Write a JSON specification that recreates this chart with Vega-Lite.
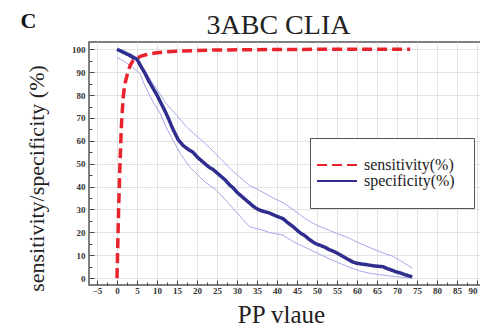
{
  "$schema": "https://vega.github.io/schema/vega-lite/v6.json",
  "width": 400,
  "height": 243,
  "autosize": {"type": "none"},
  "padding": {"left": 89, "top": 42, "right": 0, "bottom": 42},
  "background": "white",
  "config": {
    "view": {"stroke": "#555555", "strokeWidth": 1.5},
    "axis": {
      "labelFont": "Liberation Serif",
      "labelFontWeight": "bold",
      "labelFontSize": 9,
      "labelColor": "#333333",
      "titleFont": "Liberation Serif",
      "titleFontWeight": "normal",
      "titleColor": "#222222",
      "tickColor": "#444444",
      "gridColor": "#e2e2e2",
      "gridWidth": 1,
      "domain": false
    }
  },
  "datasets": {
    "bands": [
      {"bound": "upper", "pp": 0, "pct": 100},
      {"bound": "upper", "pp": 2, "pct": 99.3},
      {"bound": "upper", "pp": 4, "pct": 97.5},
      {"bound": "upper", "pp": 5, "pct": 96},
      {"bound": "upper", "pp": 7, "pct": 90.5},
      {"bound": "upper", "pp": 9, "pct": 85},
      {"bound": "upper", "pp": 10, "pct": 82.5},
      {"bound": "upper", "pp": 12.4, "pct": 76},
      {"bound": "upper", "pp": 15, "pct": 71},
      {"bound": "upper", "pp": 17.4, "pct": 66},
      {"bound": "upper", "pp": 20, "pct": 62},
      {"bound": "upper", "pp": 23, "pct": 57.3},
      {"bound": "upper", "pp": 26, "pct": 52},
      {"bound": "upper", "pp": 28.5, "pct": 47.5},
      {"bound": "upper", "pp": 31.5, "pct": 43},
      {"bound": "upper", "pp": 33, "pct": 40.6},
      {"bound": "upper", "pp": 36, "pct": 38},
      {"bound": "upper", "pp": 38.5, "pct": 35.5},
      {"bound": "upper", "pp": 41.5, "pct": 33},
      {"bound": "upper", "pp": 44, "pct": 30},
      {"bound": "upper", "pp": 47, "pct": 26},
      {"bound": "upper", "pp": 50, "pct": 23},
      {"bound": "upper", "pp": 53, "pct": 21},
      {"bound": "upper", "pp": 55, "pct": 19.5},
      {"bound": "upper", "pp": 58, "pct": 17.5},
      {"bound": "upper", "pp": 61, "pct": 15},
      {"bound": "upper", "pp": 63, "pct": 13.5},
      {"bound": "upper", "pp": 66.5, "pct": 11},
      {"bound": "upper", "pp": 69, "pct": 9.5},
      {"bound": "upper", "pp": 71, "pct": 7.5},
      {"bound": "upper", "pp": 73.8, "pct": 4.4},
      {"bound": "lower", "pp": 0, "pct": 96.5},
      {"bound": "lower", "pp": 2, "pct": 94.5},
      {"bound": "lower", "pp": 4, "pct": 92},
      {"bound": "lower", "pp": 5.7, "pct": 89.5},
      {"bound": "lower", "pp": 7, "pct": 84},
      {"bound": "lower", "pp": 9, "pct": 77},
      {"bound": "lower", "pp": 10.8, "pct": 72},
      {"bound": "lower", "pp": 12, "pct": 67},
      {"bound": "lower", "pp": 14, "pct": 60.3},
      {"bound": "lower", "pp": 16, "pct": 54},
      {"bound": "lower", "pp": 18.2, "pct": 48.5},
      {"bound": "lower", "pp": 20, "pct": 45.5},
      {"bound": "lower", "pp": 22, "pct": 42},
      {"bound": "lower", "pp": 24.9, "pct": 38.4},
      {"bound": "lower", "pp": 28, "pct": 32.5},
      {"bound": "lower", "pp": 30, "pct": 28.5},
      {"bound": "lower", "pp": 33.2, "pct": 22.4},
      {"bound": "lower", "pp": 36, "pct": 21.2},
      {"bound": "lower", "pp": 38, "pct": 20},
      {"bound": "lower", "pp": 41.5, "pct": 18.8},
      {"bound": "lower", "pp": 44, "pct": 16},
      {"bound": "lower", "pp": 47, "pct": 13.5},
      {"bound": "lower", "pp": 50, "pct": 11},
      {"bound": "lower", "pp": 53, "pct": 8.5},
      {"bound": "lower", "pp": 55, "pct": 7},
      {"bound": "lower", "pp": 58, "pct": 4.8},
      {"bound": "lower", "pp": 61, "pct": 3},
      {"bound": "lower", "pp": 63.5, "pct": 2},
      {"bound": "lower", "pp": 66.5, "pct": 1.3},
      {"bound": "lower", "pp": 69, "pct": 0.8},
      {"bound": "lower", "pp": 71, "pct": 0.4},
      {"bound": "lower", "pp": 73, "pct": 0.1}
    ],
    "curves": [
      {"series": "sensitivity(%)", "pp": 0, "pct": 0},
      {"series": "sensitivity(%)", "pp": 0.2, "pct": 15},
      {"series": "sensitivity(%)", "pp": 0.4, "pct": 30},
      {"series": "sensitivity(%)", "pp": 0.7, "pct": 47},
      {"series": "sensitivity(%)", "pp": 1.0, "pct": 62},
      {"series": "sensitivity(%)", "pp": 1.2, "pct": 70},
      {"series": "sensitivity(%)", "pp": 1.6, "pct": 80},
      {"series": "sensitivity(%)", "pp": 2.0, "pct": 85},
      {"series": "sensitivity(%)", "pp": 2.7, "pct": 90},
      {"series": "sensitivity(%)", "pp": 3.3, "pct": 93},
      {"series": "sensitivity(%)", "pp": 4, "pct": 95},
      {"series": "sensitivity(%)", "pp": 5, "pct": 96.2},
      {"series": "sensitivity(%)", "pp": 6, "pct": 97},
      {"series": "sensitivity(%)", "pp": 7, "pct": 97.5},
      {"series": "sensitivity(%)", "pp": 8, "pct": 98},
      {"series": "sensitivity(%)", "pp": 10, "pct": 98.5},
      {"series": "sensitivity(%)", "pp": 12, "pct": 98.9},
      {"series": "sensitivity(%)", "pp": 15, "pct": 99.2},
      {"series": "sensitivity(%)", "pp": 20, "pct": 99.5},
      {"series": "sensitivity(%)", "pp": 25, "pct": 99.7},
      {"series": "sensitivity(%)", "pp": 30, "pct": 99.8},
      {"series": "sensitivity(%)", "pp": 40, "pct": 99.9},
      {"series": "sensitivity(%)", "pp": 50, "pct": 100},
      {"series": "sensitivity(%)", "pp": 73.3, "pct": 100},
      {"series": "specificity(%)", "pp": 0, "pct": 100},
      {"series": "specificity(%)", "pp": 1, "pct": 99.2},
      {"series": "specificity(%)", "pp": 2, "pct": 98.3},
      {"series": "specificity(%)", "pp": 3, "pct": 97.5},
      {"series": "specificity(%)", "pp": 4, "pct": 96.5},
      {"series": "specificity(%)", "pp": 5, "pct": 95.7},
      {"series": "specificity(%)", "pp": 6, "pct": 92.5},
      {"series": "specificity(%)", "pp": 7, "pct": 89.5},
      {"series": "specificity(%)", "pp": 8, "pct": 86},
      {"series": "specificity(%)", "pp": 9, "pct": 83},
      {"series": "specificity(%)", "pp": 10, "pct": 80},
      {"series": "specificity(%)", "pp": 11, "pct": 76.5},
      {"series": "specificity(%)", "pp": 12, "pct": 73},
      {"series": "specificity(%)", "pp": 12.8, "pct": 70},
      {"series": "specificity(%)", "pp": 14, "pct": 65},
      {"series": "specificity(%)", "pp": 15.3, "pct": 60.5},
      {"series": "specificity(%)", "pp": 16.5, "pct": 58},
      {"series": "specificity(%)", "pp": 18, "pct": 56},
      {"series": "specificity(%)", "pp": 19, "pct": 55},
      {"series": "specificity(%)", "pp": 20, "pct": 53},
      {"series": "specificity(%)", "pp": 21, "pct": 51.5},
      {"series": "specificity(%)", "pp": 22, "pct": 50},
      {"series": "specificity(%)", "pp": 23, "pct": 48.5},
      {"series": "specificity(%)", "pp": 24, "pct": 47.5},
      {"series": "specificity(%)", "pp": 25, "pct": 46},
      {"series": "specificity(%)", "pp": 26, "pct": 44.5},
      {"series": "specificity(%)", "pp": 27, "pct": 43},
      {"series": "specificity(%)", "pp": 28, "pct": 41},
      {"series": "specificity(%)", "pp": 29, "pct": 39.5},
      {"series": "specificity(%)", "pp": 30, "pct": 37.5},
      {"series": "specificity(%)", "pp": 31, "pct": 36},
      {"series": "specificity(%)", "pp": 32, "pct": 34.5},
      {"series": "specificity(%)", "pp": 33, "pct": 33},
      {"series": "specificity(%)", "pp": 34, "pct": 31.5},
      {"series": "specificity(%)", "pp": 35, "pct": 30.3},
      {"series": "specificity(%)", "pp": 36, "pct": 29.5},
      {"series": "specificity(%)", "pp": 38, "pct": 28.5},
      {"series": "specificity(%)", "pp": 40, "pct": 27},
      {"series": "specificity(%)", "pp": 41.5, "pct": 26},
      {"series": "specificity(%)", "pp": 42.5, "pct": 24.5},
      {"series": "specificity(%)", "pp": 44, "pct": 22.5},
      {"series": "specificity(%)", "pp": 45, "pct": 21},
      {"series": "specificity(%)", "pp": 46, "pct": 19.5},
      {"series": "specificity(%)", "pp": 47, "pct": 18.5},
      {"series": "specificity(%)", "pp": 48, "pct": 17},
      {"series": "specificity(%)", "pp": 49, "pct": 15.8},
      {"series": "specificity(%)", "pp": 50, "pct": 14.8},
      {"series": "specificity(%)", "pp": 51, "pct": 14.2},
      {"series": "specificity(%)", "pp": 52, "pct": 13.5},
      {"series": "specificity(%)", "pp": 53, "pct": 12.5},
      {"series": "specificity(%)", "pp": 54, "pct": 11.8},
      {"series": "specificity(%)", "pp": 55, "pct": 11},
      {"series": "specificity(%)", "pp": 56, "pct": 10},
      {"series": "specificity(%)", "pp": 57, "pct": 9},
      {"series": "specificity(%)", "pp": 58, "pct": 8},
      {"series": "specificity(%)", "pp": 59, "pct": 7},
      {"series": "specificity(%)", "pp": 60, "pct": 6.5},
      {"series": "specificity(%)", "pp": 61, "pct": 6.2},
      {"series": "specificity(%)", "pp": 62, "pct": 6},
      {"series": "specificity(%)", "pp": 63, "pct": 5.7},
      {"series": "specificity(%)", "pp": 64, "pct": 5.4},
      {"series": "specificity(%)", "pp": 65, "pct": 5.2},
      {"series": "specificity(%)", "pp": 66.5, "pct": 5},
      {"series": "specificity(%)", "pp": 67.5, "pct": 4.2},
      {"series": "specificity(%)", "pp": 68.5, "pct": 3.6},
      {"series": "specificity(%)", "pp": 70, "pct": 2.6},
      {"series": "specificity(%)", "pp": 71, "pct": 2.2},
      {"series": "specificity(%)", "pp": 72, "pct": 1.5},
      {"series": "specificity(%)", "pp": 73, "pct": 1},
      {"series": "specificity(%)", "pp": 73.8, "pct": 0.5}
    ]
  },
  "layer": [
    {
      "data": {"name": "bands"},
      "mark": {"type": "line", "strokeWidth": 1, "color": "#aaa9e6"},
      "encoding": {
        "x": {
          "field": "pp",
          "type": "quantitative",
          "scale": {"domain": [-7, 93], "nice": false, "zero": false},
          "axis": {
            "orient": "bottom",
            "values": [-5, 0, 5, 10, 15, 20, 25, 30, 35, 40, 45, 50, 55, 60, 65, 70, 75, 80, 85, 90],
            "grid": true,
            "tickSize": -5,
            "labelPadding": 6,
            "labelAlign": {"expr": "datum.value >= 90 ? 'right' : 'center'"},
            "labelOverlap": false,
            "title": "PP vlaue",
            "titleFontSize": 25,
            "titleX": 192,
            "titleY": 37,
            "titleAlign": "center",
            "titleBaseline": "alphabetic"
          }
        },
        "y": {
          "field": "pct",
          "type": "quantitative",
          "scale": {"domain": [-3, 103.2], "nice": false, "zero": false},
          "axis": {
            "orient": "left",
            "values": [0, 10, 20, 30, 40, 50, 60, 70, 80, 90, 100],
            "grid": true,
            "tickSize": -5,
            "labelPadding": 9,
            "title": "sensitivity/specificity (%)",
            "titleFontSize": 22,
            "titleAngle": 270,
            "titleX": -46,
            "titleY": 136,
            "titleAlign": "center",
            "titleBaseline": "alphabetic"
          }
        },
        "detail": {"field": "bound"}
      }
    },
    {
      "data": {"name": "curves"},
      "mark": {"type": "line", "strokeWidth": 3.5, "strokeCap": "butt"},
      "encoding": {
        "x": {
          "field": "pp",
          "type": "quantitative",
          "scale": {"domain": [-7, 93], "nice": false, "zero": false},
          "axis": {
            "orient": "bottom",
            "values": [-2.5, 2.5, 7.5, 12.5, 17.5, 22.5, 27.5, 32.5, 37.5, 42.5, 47.5, 52.5, 57.5, 62.5, 67.5, 72.5, 77.5, 82.5, 87.5, 92.5],
            "grid": false,
            "labels": false,
            "tickSize": -3,
            "title": "3ABC CLIA",
            "titleFontSize": 28,
            "titleX": 189,
            "titleY": -252,
            "titleAlign": "center",
            "titleBaseline": "alphabetic"
          }
        },
        "y": {
          "field": "pct",
          "type": "quantitative",
          "scale": {"domain": [-3, 103.2], "nice": false, "zero": false},
          "axis": {
            "orient": "left",
            "values": [5, 15, 25, 35, 45, 55, 65, 75, 85, 95],
            "grid": false,
            "labels": false,
            "tickSize": -3,
            "title": "C",
            "titleFontSize": 22,
            "titleFontWeight": "bold",
            "titleColor": "#111111",
            "titleAngle": 0,
            "titleX": -61,
            "titleY": -15,
            "titleAlign": "center",
            "titleBaseline": "alphabetic"
          }
        },
        "color": {
          "field": "series",
          "type": "nominal",
          "scale": {"domain": ["sensitivity(%)", "specificity(%)"], "range": ["#e8232b", "#2f2e8e"]},
          "legend": {
            "orient": "none",
            "legendX": 221,
            "legendY": 96,
            "title": null,
            "fillColor": "white",
            "strokeColor": "#555555",
            "padding": 19,
            "rowPadding": 0,
            "symbolType": "M-2.857,0H2.857",
            "symbolSize": 196,
            "symbolOffset": 0,
            "symbolStrokeWidth": 2,
            "labelFont": "Liberation Serif",
            "labelFontSize": 16,
            "labelColor": "#222222",
            "labelOffset": 19
          }
        },
        "strokeDash": {
          "field": "series",
          "type": "nominal",
          "scale": {"domain": ["sensitivity(%)", "specificity(%)"], "range": [[10, 5], [1, 0]]},
          "legend": null
        }
      }
    }
  ],
  "resolve": {"axis": {"x": "independent", "y": "independent"}}
}
